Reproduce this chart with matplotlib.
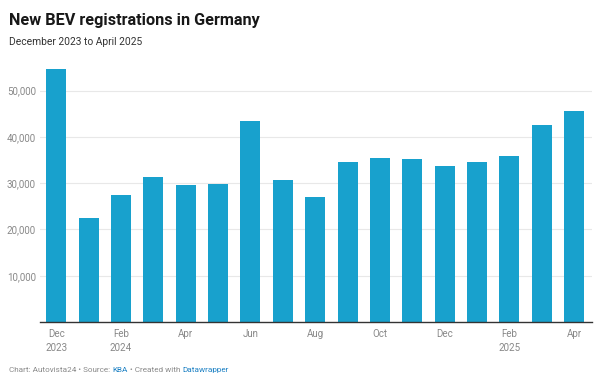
import matplotlib
matplotlib.use("Agg")
import matplotlib.pyplot as plt
import numpy as np

plt.rcParams['font.family'] = ['Roboto', 'DejaVu Sans']

months = ["Dec 2023", "Jan 2024", "Feb 2024", "Mar 2024", "Apr 2024", "May 2024",
          "Jun 2024", "Jul 2024", "Aug 2024", "Sep 2024", "Oct 2024", "Nov 2024",
          "Dec 2024", "Jan 2025", "Feb 2025", "Mar 2025", "Apr 2025"]
registrations = [54654, 22474, 27479, 31384, 29663, 29708, 43412, 30762, 27024,
                 34518, 35482, 35167, 33628, 34498, 35949, 42500, 45535]
tick_pos = [0, 2, 4, 6, 8, 10, 12, 14, 16]
tick_labels = ["Dec\n2023", "Feb\n2024", "Apr", "Jun", "Aug", "Oct", "Dec", "Feb\n2025", "Apr"]
y_ticks = [10000, 20000, 30000, 40000, 50000]

W, H = 605, 383
fig = plt.figure(figsize=(W / 100, H / 100), dpi=100)
ax = fig.add_axes([40 / W, 61 / H, (592 - 40) / W, (322 - 60) / H])

x = np.arange(len(months))
ax.bar(x, registrations, width=0.62, color="#18a1cd", zorder=3)

ax.set_xlim(-0.5, 16.55)
ax.set_ylim(0, 56600)
ax.set_yticks(y_ticks)
ax.set_yticklabels([f"{v:,}" for v in y_ticks])
ax.set_xticks(tick_pos)
ax.set_xticklabels(tick_labels, linespacing=1.5)
ax.tick_params(axis="both", length=0, labelsize=7, labelcolor="#888888")
ax.tick_params(axis="y", pad=3)
ax.tick_params(axis="x", pad=5)
ax.grid(axis="y", color="#e8e8e8", linewidth=0.8, zorder=0)
for s in ["top", "right", "left"]:
    ax.spines[s].set_visible(False)
ax.spines["bottom"].set_color("#333333")
ax.spines["bottom"].set_linewidth(1.0)
ax.spines["bottom"].set_zorder(4)

fig.text(9 / W, 1 - 25 / H, "New BEV registrations in Germany", fontsize=11.7,
         fontweight="bold", color="#181818", va="baseline")
fig.text(9 / W, 1 - 45 / H, "December 2023 to April 2025", fontsize=7.4,
         color="#333333", va="baseline")

# footer with coloured links
fy = 1 - 372 / H
fs = 5.9
t = fig.text(9 / W, fy, "Chart: Autovista24 \u2022 Source: ", fontsize=fs, color="#8a8a8a", va="baseline")
fig.canvas.draw()
r = fig.canvas.get_renderer()
bb = t.get_window_extent(r)
t2 = fig.text(bb.x1 / W, fy, "KBA", fontsize=fs, color="#1d81c4", va="baseline")
bb = t2.get_window_extent(r)
t3 = fig.text(bb.x1 / W, fy, " \u2022 Created with ", fontsize=fs, color="#8a8a8a", va="baseline")
bb = t3.get_window_extent(r)
fig.text(bb.x1 / W, fy, "Datawrapper", fontsize=fs, color="#1d81c4", va="baseline")

fig.savefig("out.png", dpi=100)
